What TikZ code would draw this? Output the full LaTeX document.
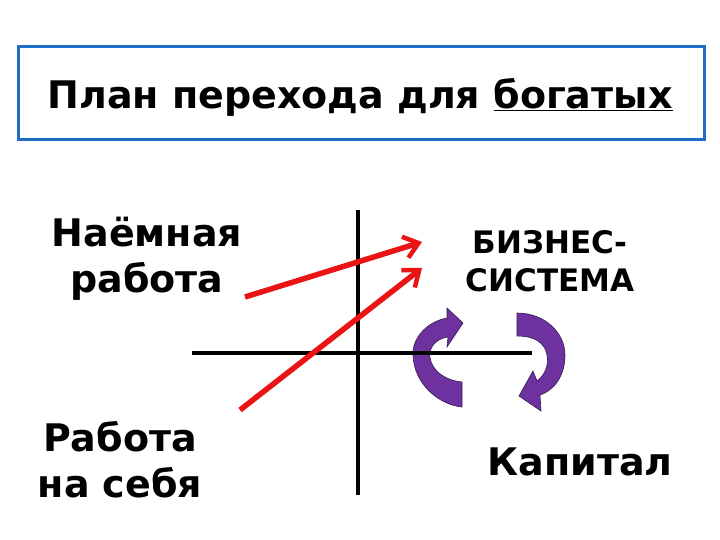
\documentclass[tikz,border=0pt]{standalone}
\usepackage{fontspec}
\setmainfont{DejaVu Sans}
\usetikzlibrary{arrows.meta}
\definecolor{boxblue}{RGB}{30,110,200}
\definecolor{arrred}{RGB}{235,20,20}
\definecolor{purp}{RGB}{110,50,160}
\tikzset{
  lbl/.style={font=\bfseries\fontsize{38}{46}\selectfont, align=center, inner sep=0pt},
  axis/.style={line width=3.5pt, black},
  redarr/.style={line width=5.5pt, arrred, -{Straight Barb[length=14pt,width=22pt,line width=4.5pt]}},
  curv/.style={fill=purp, draw=purp!50!black, line width=0.6pt}
}
\begin{document}
\begin{tikzpicture}[x=1pt,y=-1pt]
\useasboundingbox (0,0) rectangle (720,540);
\fill[white] (0,0) rectangle (720,540);
\node[draw=boxblue, line width=3pt, minimum width=686pt, minimum height=93pt, anchor=north west, inner sep=0pt] (box) at (17,45) {};
\node[font=\bfseries\fontsize{38}{44}\selectfont, inner sep=0pt] (title) at (360,97) {План перехода для \underline{богатых}};
\path[curv] (462,407) -- (462,382) .. controls (440,380) and (428,365) .. (430,352) .. controls (432,343) and (440,338) .. (448,337) -- (447,347) -- (463,323) -- (447,308) -- (447,318) .. controls (425,322) and (412,340) .. (413,355) .. controls (414,385) and (440,405) .. (462,407) -- cycle;
\path[curv] (517,313) .. controls (545,313) and (565,333) .. (565,355) .. controls (565,380) and (550,392) .. (540,395) -- (541,411) -- (519,396) -- (533,371) -- (537,381) .. controls (545,375) and (549,365) .. (547,355) .. controls (545,343) and (535,336) .. (517,336) -- cycle;
\coordinate (vt) at (358,210); \coordinate (vb) at (358,495);
\coordinate (hl) at (192,353); \coordinate (hr) at (532,353);
\draw[axis] (vt) -- (vb);
\draw[axis] (hl) -- (hr);
\node[lbl] (emp) at (147,259) {Наёмная\\работа};
\node[lbl] (self) at (120,460) {Работа\\на себя};
\node[lbl, font=\bfseries\fontsize{31}{38}\selectfont] (biz) at (550,261) {БИЗНЕС-\\СИСТЕМА};
\node[lbl] (cap) at (580,462) {Капитал};
\coordinate (a1s) at (245,297); \coordinate (a1e) at (422,242);
\coordinate (a2s) at (240,410); \coordinate (a2e) at (422,268);
\draw[redarr] (a1s) -- (a1e);
\draw[redarr] (a2s) -- (a2e);
\end{tikzpicture}
\end{document}
